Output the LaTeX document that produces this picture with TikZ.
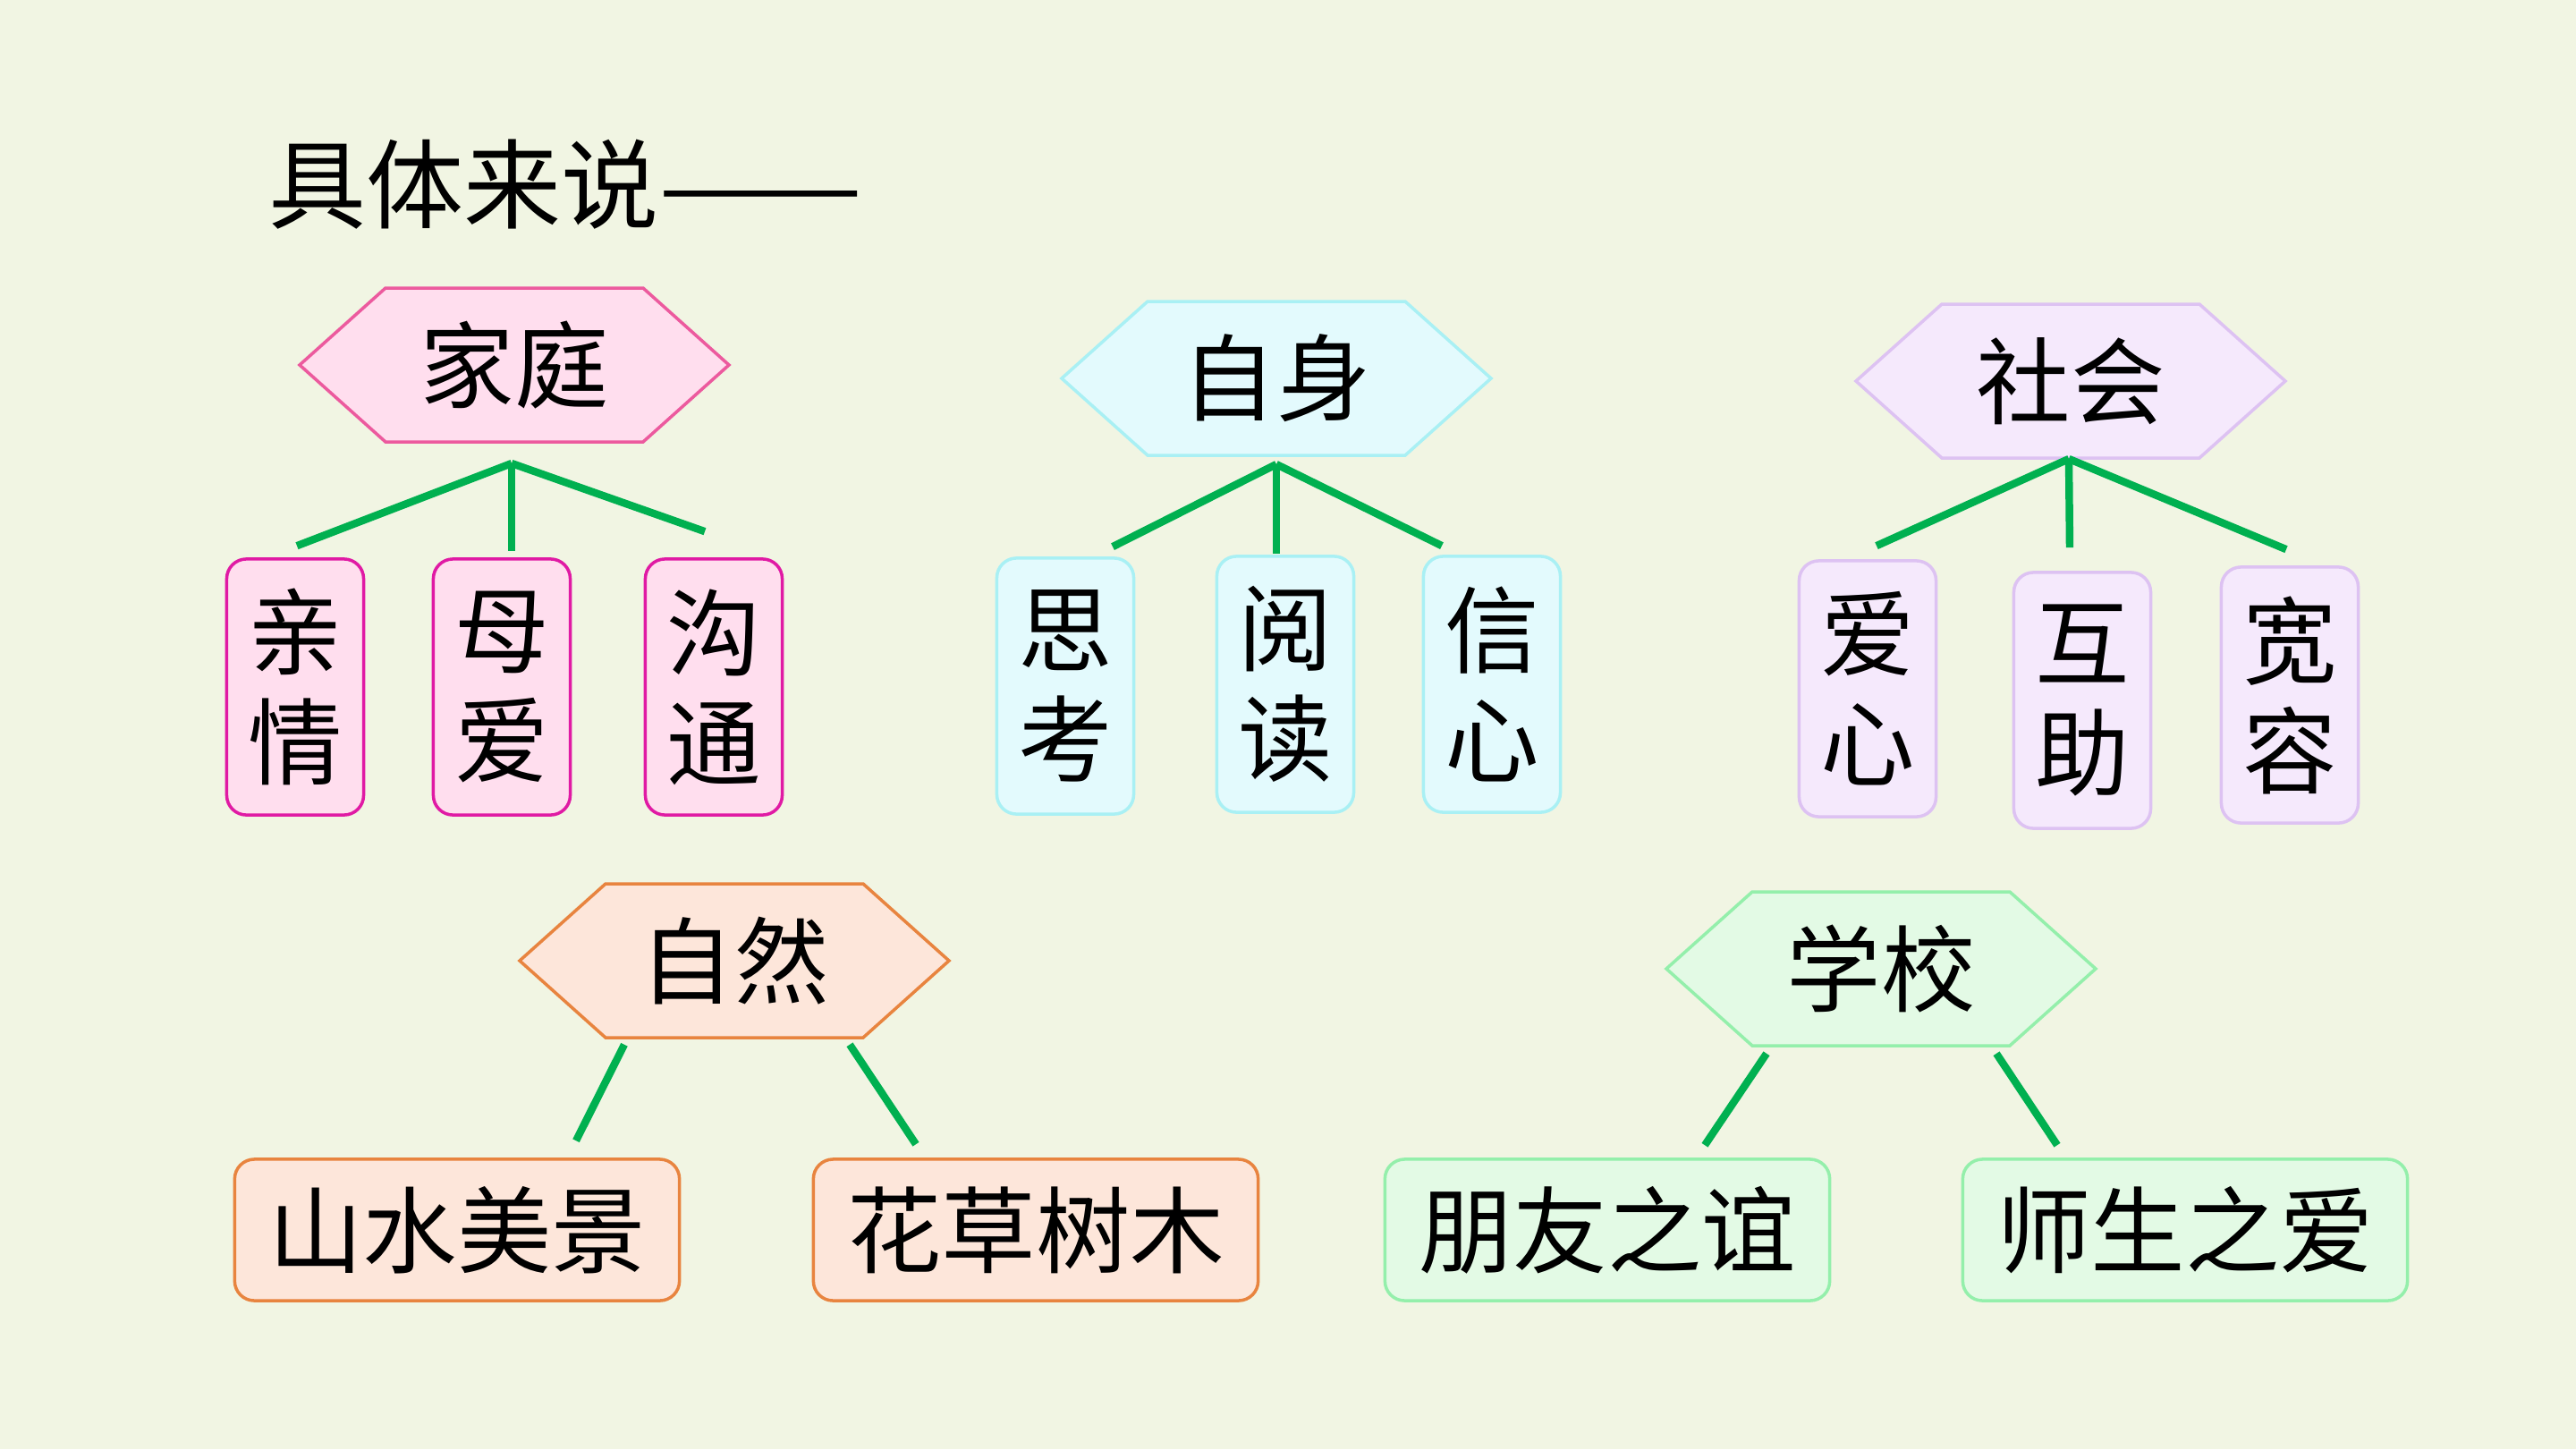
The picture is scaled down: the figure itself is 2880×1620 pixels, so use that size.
\documentclass[tikz,border=0pt]{standalone}
\usepackage{fontspec}
\setmainfont{Noto Sans CJK SC}
\usetikzlibrary{calc}
\definecolor{bgcol}{HTML}{F1F5E3}
\definecolor{branchcol}{HTML}{00B050}
\definecolor{pinkfill}{HTML}{FFDEEE}
\definecolor{pinkhex}{HTML}{EC5A9E}
\definecolor{pinkbox}{HTML}{E01AA4}
\definecolor{cyanfill}{HTML}{E3FAFD}
\definecolor{cyanline}{HTML}{A9F0F4}
\definecolor{lilacfill}{HTML}{F5E9FC}
\definecolor{lilacline}{HTML}{DDC2F2}
\definecolor{orangefill}{HTML}{FDE6DA}
\definecolor{orangeline}{HTML}{E8843F}
\definecolor{greenfill}{HTML}{E3FAE5}
\definecolor{greenline}{HTML}{94EFAB}
\def\hexw{480}
\def\hexh{172}
\def\hexcut{96}
\newcommand\hexnode[5]{% name, position, line, fill, text
  \draw[draw=#3, fill=#4, line width=1pt] ($(#2)+(-\hexw/2,0)$) -- ++(\hexcut,-\hexh/2)
    -- ++(\hexw-2*\hexcut,0) -- ++(\hexcut,\hexh/2) -- ++(-\hexcut,\hexh/2)
    -- ++(-\hexw+2*\hexcut,0) -- cycle;
  \node[hexlabel] (#1) at (#2) {#5};}

\begin{document}
\begin{tikzpicture}[x=0.01cm, y=-0.01cm,
    hexlabel/.style={minimum width=4.8cm, minimum height=1.72cm, inner sep=0pt,
      font=\fontsize{30}{36}\selectfont},
    vbox/.style={rounded corners=0.22cm, line width=1pt, minimum width=1.53cm,
      minimum height=2.86cm, inner sep=0pt, align=center,
      font=\fontsize{30}{35}\selectfont},
    hbox/.style={rounded corners=0.22cm, line width=1pt, minimum width=4.97cm,
      minimum height=1.58cm, inner sep=0pt, font=\fontsize{30}{36}\selectfont},
    branch/.style={draw=branchcol, line width=2.4pt}]
  \useasboundingbox (0,0) rectangle (2880,1620);
  \fill[bgcol] (0,0) rectangle (2880,1620);

  \node[anchor=west, inner sep=0pt, font=\fontsize{31}{36}\selectfont] (title) at (300,206) {具体来说\scalebox{1.25}[1]{——}};

  % 家庭
  \hexnode{jt}{575,408}{pinkhex}{pinkfill}{家庭}
  \node[vbox, draw=pinkbox, fill=pinkfill] (qq) at (330,768) {亲\\情};
  \node[vbox, draw=pinkbox, fill=pinkfill] (ma) at (561,768) {母\\爱};
  \node[vbox, draw=pinkbox, fill=pinkfill] (gt) at (798,768) {沟\\通};
  \coordinate (jt-fork) at (572,518);
  \draw[branch] (jt-fork) -- ($(qq.north)+(2,-13)$);
  \draw[branch] (jt-fork) -- ($(ma.north)+(11,-7)$);
  \draw[branch] (jt-fork) -- ($(gt.north)+(-10,-29)$);

  % 自身
  \hexnode{zs}{1427,423}{cyanline}{cyanfill}{自身}
  \node[vbox, draw=cyanline, fill=cyanfill] (sk) at (1191,767) {思\\考};
  \node[vbox, draw=cyanline, fill=cyanfill] (yd) at (1437,765) {阅\\读};
  \node[vbox, draw=cyanline, fill=cyanfill] (xx) at (1668,765) {信\\心};
  \coordinate (zs-fork) at (1427,519);
  \draw[branch] (zs-fork) -- ($(sk.north)+(53,-11)$);
  \draw[branch] (zs-fork) -- ($(yd.north)+(-10,-1)$);
  \draw[branch] (zs-fork) -- ($(xx.north)+(-56,-10)$);

  % 社会
  \hexnode{sh}{2315,426}{lilacline}{lilacfill}{社会}
  \node[vbox, draw=lilacline, fill=lilacfill] (ax) at (2088,770) {爱\\心};
  \node[vbox, draw=lilacline, fill=lilacfill] (hz) at (2328,783) {互\\助};
  \node[vbox, draw=lilacline, fill=lilacfill] (kr) at (2560,777) {宽\\容};
  \coordinate (sh-fork) at (2313,513);
  \draw[branch] (sh-fork) -- ($(ax.north)+(10,-15)$);
  \draw[branch] (sh-fork) -- ($(hz.north)+(-14,-26)$);
  \draw[branch] (sh-fork) -- ($(kr.north)+(-4,-18)$);

  % 自然
  \hexnode{zr}{821,1074}{orangeline}{orangefill}{自然}
  \node[hbox, draw=orangeline, fill=orangefill] (sj) at (511,1375) {山水美景};
  \node[hbox, draw=orangeline, fill=orangefill] (hc) at (1158,1375) {花草树木};
  \draw[branch] ($(zr.south)+(-123,7)$) -- ($(sj.north)+(133,-19)$);
  \draw[branch] ($(zr.south)+(129,7)$) -- ($(hc.north)+(-134,-15)$);

  % 学校
  \hexnode{xj}{2103,1083}{greenline}{greenfill}{学校}
  \node[hbox, draw=greenline, fill=greenfill] (py) at (1797,1375) {朋友之谊};
  \node[hbox, draw=greenline, fill=greenfill] (ss) at (2443,1375) {师生之爱};
  \draw[branch] ($(xj.south)+(-128,8)$) -- ($(py.north)+(109,-14)$);
  \draw[branch] ($(xj.south)+(129,8)$) -- ($(ss.north)+(-143,-14)$);
\end{tikzpicture}
\end{document}
